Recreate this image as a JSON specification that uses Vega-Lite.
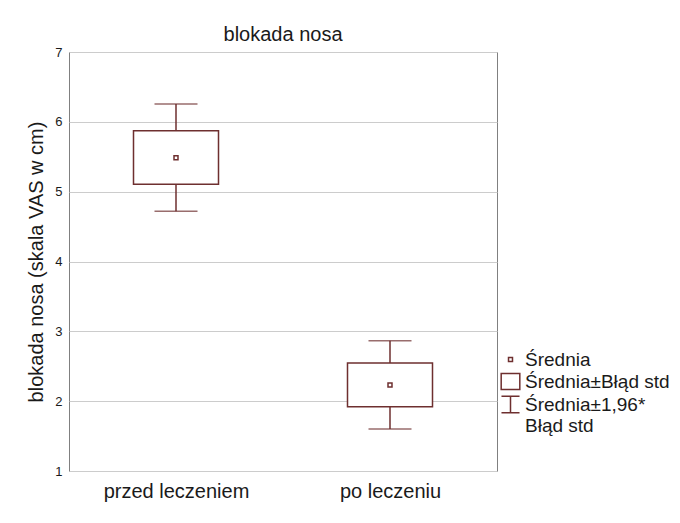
{
  "$schema": "https://vega.github.io/schema/vega-lite/v6.json",
  "autosize": {"type": "none"},
  "padding": {"left": 69, "top": 52, "right": 183, "bottom": 52},
  "width": 428,
  "height": 419,
  "background": "white",
  "config": {
    "font": "Liberation Sans",
    "view": {"stroke": "#808080", "strokeWidth": 1}
  },
  "title": {
    "text": "blokada nosa",
    "fontSize": 20,
    "fontWeight": "normal",
    "color": "#1a1a1a",
    "anchor": "middle",
    "offset": 1
  },
  "data": {
    "values": [
      {"grupa": "przed leczeniem", "mean": 5.487, "seLo": 5.106, "seHi": 5.873, "ciLo": 4.719, "ciHi": 6.256},
      {"grupa": "po leczeniu", "mean": 2.232, "seLo": 1.921, "seHi": 2.547, "ciLo": 1.601, "ciHi": 2.866}
    ]
  },
  "encoding": {
    "x": {
      "field": "grupa",
      "type": "nominal",
      "sort": ["przed leczeniem", "po leczeniu"],
      "scale": {"type": "point", "padding": 0.5},
      "axis": {
        "title": null,
        "labelAngle": 0,
        "labelFontSize": 20,
        "labelColor": "#1a1a1a",
        "labelPadding": 10,
        "domain": false,
        "ticks": false,
        "grid": false
      }
    }
  },
  "layer": [
    {
      "mark": {"type": "rule", "color": "#6e2f2f", "strokeWidth": 1.5},
      "encoding": {
        "y": {
          "field": "ciLo",
          "type": "quantitative",
          "scale": {"domain": [1, 7], "nice": false, "zero": false},
          "axis": {
            "title": "blokada nosa (skala VAS w cm)",
            "titleFontSize": 20,
            "titleFontWeight": "normal",
            "titleColor": "#1a1a1a",
            "titlePadding": 8,
            "values": [1, 2, 3, 4, 5, 6, 7],
            "format": "d",
            "labelFontSize": 13,
            "labelColor": "#1a1a1a",
            "labelPadding": 7,
            "ticks": false,
            "domain": false,
            "grid": true,
            "gridColor": "#cccccc",
            "gridWidth": 1
          }
        },
        "y2": {"field": "ciHi"}
      }
    },
    {
      "mark": {"type": "tick", "orient": "horizontal", "color": "#6e2f2f", "size": 43, "thickness": 1.5},
      "encoding": {"y": {"field": "ciLo", "type": "quantitative"}}
    },
    {
      "mark": {"type": "tick", "orient": "horizontal", "color": "#6e2f2f", "size": 43, "thickness": 1.5},
      "encoding": {"y": {"field": "ciHi", "type": "quantitative"}}
    },
    {
      "mark": {"type": "bar", "size": 85, "fill": "white", "stroke": "#6e2f2f", "strokeWidth": 1.5},
      "encoding": {
        "y": {"field": "seLo", "type": "quantitative"},
        "y2": {"field": "seHi"}
      }
    },
    {
      "mark": {"type": "point", "filled": false, "size": 361, "color": "#6e2f2f", "strokeWidth": 1.5, "opacity": 1},
      "encoding": {
        "y": {"field": "mean", "type": "quantitative"},
        "shape": {
          "datum": "Średnia",
          "scale": {
            "domain": ["Średnia", "Średnia±Błąd std", "Średnia±1,96* Błąd std"],
            "range": [
              "M-0.21,-0.21H0.21V0.21H-0.21Z",
              "M-0.98,-0.85H0.98V0.85H-0.98Z",
              "M-0.95,-0.88H0.95M0,-0.88V0.88M-0.95,0.88H0.95"
            ]
          },
          "legend": {
            "title": null,
            "orient": "none",
            "legendX": 431,
            "legendY": 297,
            "padding": 0,
            "symbolSize": 361,
            "symbolStrokeColor": "#6e2f2f",
            "symbolStrokeWidth": 1.5,
            "symbolFillColor": "white",
            "symbolOpacity": 1,
            "labelFontSize": 19,
            "labelColor": "#1a1a1a",
            "labelOffset": 4,
            "labelLimit": 300,
            "rowPadding": 0,
            "labelExpr": "datum.label == 'Średnia±1,96* Błąd std' ? ['Średnia±1,96*', 'Błąd std'] : datum.label"
          }
        }
      }
    }
  ]
}
